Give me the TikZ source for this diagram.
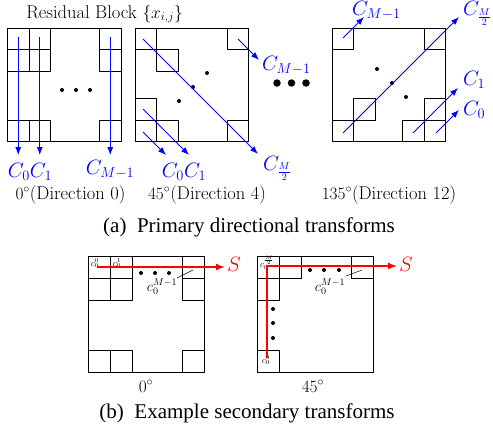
\documentclass[tikz,border=0pt]{standalone}
\usepackage{fontspec}
\newfontfamily\capfont{Liberation Serif}
\usetikzlibrary{arrows.meta}
\newcommand\cellbox[2]{\draw[cell] (#1,#2) rectangle ++(21.5,21.5);}
\newcommand\cellboxb[2]{\draw[cell] (#1,#2) rectangle ++(22,22);}
\begin{document}
\begin{tikzpicture}[x=1pt,y=-1pt,
  cell/.style={draw=black,line width=0.9pt},
  outer/.style={draw=black,line width=0.9pt},
  barrow/.style={draw=blue,line width=0.8pt,-{Latex[length=8pt,width=6pt]}},
  rarrow/.style={draw=red,line width=1.5pt,-{Latex[length=9pt,width=7pt]}},
  lbl/.style={inner sep=0pt,font=\fontsize{18.5}{21}\selectfont},
  blbl/.style={inner sep=0pt,text=blue,font=\fontsize{20}{22}\selectfont},
  slbl/.style={inner sep=0pt,font=\fontsize{9}{10}\selectfont},
  mlbl/.style={inner sep=0pt,font=\fontsize{14}{16}\selectfont},
  captext/.style={inner sep=0pt,anchor=base,font=\capfont\fontsize{21}{24}\selectfont},
  dot/.style={circle,fill=black,inner sep=0pt,minimum size=4pt},
  bigdot/.style={circle,fill=black,inner sep=0pt,minimum size=7.5pt},
  leader/.style={draw=black,line width=0.5pt}
]
\useasboundingbox (0,0) rectangle (493,431);

% title
\node[lbl,anchor=base] (title) at (104.5,18) {Residual Block $\{x_{i,j}\}$};

% ---------- block 1 (0 deg)
\draw[outer] (7.5,28) rectangle (121,141.5);
\cellbox{7.5}{28}\cellbox{29}{28}\cellbox{7.5}{49.5}\cellbox{29}{49.5}
\cellbox{99.5}{28}\cellbox{99.5}{49.5}
\cellbox{7.5}{120}\cellbox{29}{120}\cellbox{99.5}{120}
\node[dot] (a1) at (62,90) {};
\node[dot] (a2) at (76,90) {};
\node[dot] (a3) at (90,90) {};
\coordinate (p0s) at (18.25,37); \coordinate (p0e) at (18.25,155);
\coordinate (p1s) at (39.75,37); \coordinate (p1e) at (39.75,155);
\coordinate (pms) at (110.25,37); \coordinate (pme) at (110.25,155);
\draw[barrow] (p0s) -- (p0e);
\draw[barrow] (p1s) -- (p1e);
\draw[barrow] (pms) -- (pme);
\node[blbl,anchor=base] (la01) at (30,177) {$C_0C_1$};
\node[blbl,anchor=base] (lam) at (110,174) {$C_{M-1}$};
\node[lbl,anchor=base] (d0) at (70.5,199) {$0^\circ$(Direction 0)};

% ---------- block 2 (45 deg)
\draw[outer] (135,28) rectangle (248.5,141.5);
\cellbox{135}{28}\cellbox{156.5}{49.5}\cellbox{227}{28}
\cellbox{135}{98.5}\cellbox{135}{120}\cellbox{156.5}{120}\cellbox{227}{120}
\node[dot] (b1) at (207,73) {};
\node[dot] (b2) at (193,87) {};
\node[dot] (b3) at (179,101) {};
\coordinate (qds) at (143,39); \coordinate (qde) at (258,154);
\coordinate (qms) at (238,39); \coordinate (qme) at (259,60);
\coordinate (q1s) at (143,109); \coordinate (q1e) at (189,155);
\coordinate (q0s) at (143,132); \coordinate (q0e) at (166,155);
\draw[barrow] (qds) -- (qde);
\draw[barrow] (qms) -- (qme);
\draw[barrow] (q1s) -- (q1e);
\draw[barrow] (q0s) -- (q0e);
\node[blbl,anchor=base west] (lbm) at (262,70) {$C_{M-1}$};
\node[blbl,anchor=base west] (lbh) at (263,170) {$C_{\frac{M}{2}}$};
\node[blbl,anchor=base] (lb01) at (184,177) {$C_0C_1$};
\node[lbl,anchor=base] (d4) at (207,199) {$45^\circ$(Direction 4)};

% big dots
\node[bigdot] (g1) at (277,83) {};
\node[bigdot] (g2) at (291.5,83) {};
\node[bigdot] (g3) at (306,83) {};

% ---------- block 3 (135 deg)
\draw[outer] (332,28) rectangle (445.5,141.5);
\cellbox{332}{28}\cellbox{424}{28}\cellbox{353.5}{98.5}
\cellbox{332}{120}\cellbox{424}{98.5}\cellbox{402.5}{120}\cellbox{424}{120}
\node[dot] (c1) at (377,69) {};
\node[dot] (c2) at (392,83) {};
\node[dot] (c3) at (406,97) {};
\coordinate (rds) at (343,133); \coordinate (rde) at (459,17);
\coordinate (rms) at (343,38); \coordinate (rme) at (364,17);
\coordinate (r1s) at (413,133); \coordinate (r1e) at (458,88);
\coordinate (r0s) at (436,133); \coordinate (r0e) at (459,110);
\draw[barrow] (rds) -- (rde);
\draw[barrow] (rms) -- (rme);
\draw[barrow] (r1s) -- (r1e);
\draw[barrow] (r0s) -- (r0e);
\node[blbl,anchor=base west] (lcm) at (352,15.5) {$C_{M-1}$};
\node[blbl,anchor=base west] (lch) at (463,15.5) {$C_{\frac{M}{2}}$};
\node[blbl,anchor=base west] (lc1) at (463,85) {$C_1$};
\node[blbl,anchor=base west] (lc0) at (463,115) {$C_0$};
\node[lbl,anchor=base] (d12) at (389,199) {$135^\circ$(Direction 12)};

\node[captext] (capa) at (249,232) {(a)\hskip0.5em Primary directional transforms};

% ---------- secondary 0 deg
\draw[outer] (88,256) rectangle (204,372);
\cellboxb{88}{256}\cellboxb{110}{256}\cellboxb{88}{278}\cellboxb{110}{278}
\cellboxb{182}{256}\cellboxb{182}{278}
\cellboxb{88}{350}\cellboxb{110}{350}\cellboxb{182}{350}
\node[slbl] (s00) at (95,263) {$c_0^0$};
\node[slbl] (s01) at (117,263) {$c_0^1$};
\node[dot] (e1) at (141,273) {};
\node[dot] (e2) at (155,273) {};
\node[dot] (e3) at (169,273) {};
\node[mlbl] (s0m) at (162,287) {$c_0^{M-1}$};
\coordinate (l0a) at (177,278); \coordinate (l0b) at (193,270);
\draw[leader] (l0a) -- (l0b);
\coordinate (t0s) at (97,267); \coordinate (t0e) at (225,267);
\draw[rarrow] (t0s) -- (t0e);
\node[blbl,text=red,anchor=base west] (S0) at (227,271) {$S$};
\node[lbl,anchor=base] (g0) at (146,392) {$0^\circ$};

% ---------- secondary 45 deg
\draw[outer] (257,256) rectangle (373,372);
\cellboxb{257}{256}\cellboxb{279}{256}\cellboxb{257}{278}
\cellboxb{351}{256}\cellboxb{257}{350}
\node[slbl] (s4h) at (267,263) {$c_0^{\frac{M}{2}}$};
\node[slbl] (s40) at (266,360) {$c_0^0$};
\node[dot] (v1) at (273,309) {};
\node[dot] (v2) at (273,323) {};
\node[dot] (v3) at (273,338) {};
\node[dot] (h1) at (310,270) {};
\node[dot] (h2) at (324,270) {};
\node[dot] (h3) at (339,270) {};
\node[mlbl] (s4m) at (330,287) {$c_0^{M-1}$};
\coordinate (l4a) at (346,276); \coordinate (l4b) at (362,270);
\draw[leader] (l4a) -- (l4b);
\coordinate (t4s) at (267,358); \coordinate (t4c) at (267,266); \coordinate (t4e) at (397,266);
\draw[rarrow] (t4s) -- (t4c) -- (t4e);
\node[blbl,text=red,anchor=base west] (S4) at (399,271) {$S$};
\node[lbl,anchor=base] (g45) at (313,392) {$45^\circ$};

\node[captext] (capb) at (247,418) {(b)\hskip0.5em Example secondary transforms};
\end{tikzpicture}
\end{document}
